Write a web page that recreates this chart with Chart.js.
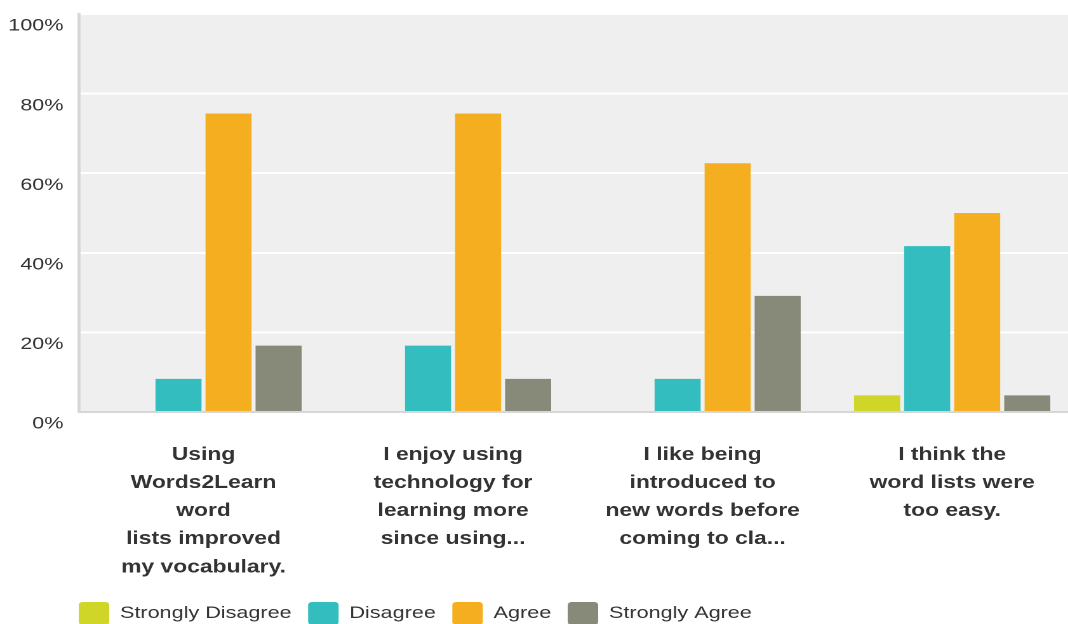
<!DOCTYPE html>
<html>
<head>
<meta charset="utf-8">
<title>Survey responses</title>
<script src="https://cdn.jsdelivr.net/npm/chart.js@4"></script>
<style>
  html, body { margin: 0; padding: 0; background: #fff; overflow: hidden; width: 1068px; height: 624px; }
  /* the chart is laid out narrow and widened sideways, like the wide-lettered original screenshot */
  #wrap { width: 848px; height: 635px; transform: scaleX(1.27); transform-origin: 0 0; }
</style>
</head>
<body>
<div id="wrap"><canvas id="surveyChart"></canvas></div>
<script>
// Survey statements (wrapped the way they appear under each group)
const categories = [
    ['Using', 'Words2Learn', 'word', 'lists improved', 'my vocabulary.'],
    ['I enjoy using', 'technology for', 'learning more', 'since using...'],
    ['I like being', 'introduced to', 'new words before', 'coming to cla...'],
    ['I think the', 'word lists were', 'too easy.']
];

// Percent of respondents per answer
const stronglyDisagree = [0, 0, 0, 4.17];
const disagree = [8.33, 16.67, 8.33, 41.67];
const agree = [75, 75, 62.5, 50];
const stronglyAgree = [16.67, 8.33, 29.17, 4.17];

const yTicks = [0, 20, 40, 60, 80, 100];

const fontFamily = 'Arial, "Liberation Sans", sans-serif';
const legendPadding = 13;
const ctx = document.getElementById('surveyChart').getContext('2d');

// grey plot background behind the bars
const plotBackground = {
    id: 'plotBackground',
    beforeDraw(chart) {
        const { ctx, chartArea } = chart;
        ctx.save();
        ctx.fillStyle = '#efefef';
        ctx.fillRect(chartArea.left, chartArea.top, chartArea.right - chartArea.left, chartArea.bottom - chartArea.top);
        ctx.restore();
    }
};

// start the legend row flush with the left edge of the plot
const legendShift = {
    id: 'legendShift',
    afterLayout(chart) {
        if (chart.legend) {
            chart.legend.left = chart.chartArea.left - legendPadding;
        }
    }
};

const barStyle = {
    categoryPercentage: 0.802,
    barPercentage: 0.92,
    borderWidth: 0
};

const chartData = {
    labels: categories,
    datasets: [
        { label: 'Strongly Disagree', data: stronglyDisagree, backgroundColor: '#cfd628', ...barStyle },
        { label: 'Disagree', data: disagree, backgroundColor: '#33bdbf', ...barStyle },
        { label: 'Agree', data: agree, backgroundColor: '#f5ae20', ...barStyle },
        { label: 'Strongly Agree', data: stronglyAgree, backgroundColor: '#878a78', ...barStyle }
    ]
};

const chartOptions = {
    responsive: true,
    maintainAspectRatio: false,
    animation: false,
    devicePixelRatio: 2,
    layout: { padding: { top: 14, left: 0, right: 0, bottom: 0 } },
    plugins: {
        tooltip: { enabled: false },
        legend: {
            position: 'bottom',
            align: 'start',
            labels: {
                boxWidth: 24,
                boxHeight: 23,
                useBorderRadius: true,
                borderRadius: 3,
                padding: legendPadding,
                color: '#333',
                font: { family: fontFamily, size: 17 }
            }
        }
    },
    scales: {
        x: {
            grid: { display: false, drawTicks: false },
            border: { color: '#d6d6d6', width: 2 },
            ticks: {
                padding: 29,
                color: '#333',
                maxRotation: 0,
                autoSkip: false,
                font: { family: fontFamily, size: 18, weight: 'bold', lineHeight: 1.56 }
            },
            afterFit(scale) { scale.height = 177; }
        },
        y: {
            min: 0,
            max: 100,
            afterBuildTicks(scale) { scale.ticks = yTicks.map(v => ({ value: v })); },
            grid: {
                drawTicks: false,
                lineWidth: 2,
                color: c => (c.tick && c.tick.value === 0) ? 'rgba(0,0,0,0)' : '#ffffff'
            },
            border: { color: '#d6d6d6', width: 2.4 },
            ticks: {
                padding: 12,
                labelOffset: 12,
                color: '#333',
                font: { family: fontFamily, size: 17 },
                callback: v => v + '%'
            },
            afterFit(scale) {
                scale.width = 62;
                scale.paddingTop = 0;
                scale.paddingBottom = 0;
            }
        }
    }
};

const config = {
    type: 'bar',
    data: chartData,
    options: chartOptions,
    plugins: [plotBackground, legendShift]
};

const surveyChart = new Chart(ctx, config);
</script>
</body>
</html>
